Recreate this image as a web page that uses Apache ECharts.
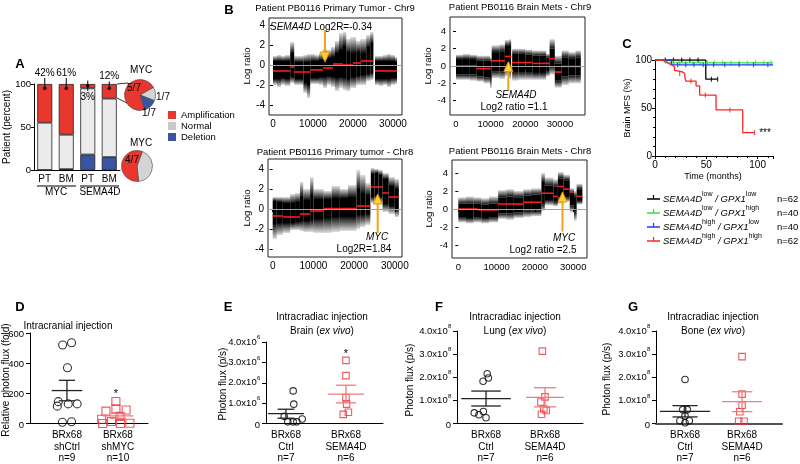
<!DOCTYPE html>
<html>
<head>
<meta charset="utf-8">
<script src="https://cdn.jsdelivr.net/npm/echarts@6.0.0/dist/echarts.min.js"></script>
<style>
html,body{margin:0;padding:0;background:#fff;}
#chart{width:800px;height:464px;position:relative;}
.tick{position:absolute;color:#000;line-height:1;white-space:nowrap;z-index:10;pointer-events:none;transform:translateY(-50%);}
</style>
</head>
<body>
<div id="chart"></div>
<script>
/* ================= DATA ================= */
/* Panel A */
const aCategories = ['PT', 'BM', 'PT', 'BM'];
const aGenes = ['MYC', 'SEMA4D'];
const aDeletion = [0, 1, 18, 15];
const aNormal = [55, 40, 77, 68];
const aAmplification = [45, 59, 5, 17];
const aErrLow = [95, 95, 92, 95];
const aErrHigh = [107, 107, 104, 103];
const aErrDot = [95, 95, 98, 95];
const aPctLabels = ['42%', '61%', '3%', '12%'];
const aLegendNames = ['Amplification', 'Normal', 'Deletion'];
const pieTopNames = ['Normal', 'Deletion', 'Amplification'];
const pieTopValues = [1, 1, 5];
const pieBottomNames = ['Normal', 'Amplification'];
const pieBottomValues = [3, 4];

/* Panel B : [start, end, outerLow, outerHigh, coreLow, coreHigh] read from the point clouds */
const bTitles = ['Patient PB0116 Primary Tumor - Chr9', 'Patient PB0116 Brain Mets - Chr9',
                 'Patient PB0116 Primary tumor - Chr8', 'Patient PB0116 Brain Mets - Chr8'];
const bXTicks = [0, 10000, 20000, 30000];
const bYTicks = [-4, -2, 0, 2, 4];
const b1Cloud = [
 [0,1000,-2.0,0.9,-1.4,0.4],[1000,2000,-2.2,1.0,-1.4,0.4],[2000,3000,-2.0,0.9,-1.3,0.4],
 [3000,4300,-2.1,1.0,-1.4,0.4],[4300,5300,-1.8,2.3,-1.2,1.2],[5300,6500,-2.0,0.9,-1.4,0.3],
 [6500,7600,-2.0,0.9,-1.4,0.3],[7600,8500,-2.8,1.0,-1.8,0.3],[8500,9300,-3.3,1.1,-2.0,0.3],
 [9300,10500,-1.9,1.1,-1.3,0.4],[10500,11500,-1.9,1.0,-1.3,0.4],[11500,12500,-2.0,1.2,-1.2,0.5],
 [12500,13500,-2.3,1.6,-1.2,0.6],[13500,14500,-2.0,1.5,-1.1,0.7],[14500,15500,-2.2,1.8,-1.2,0.8],
 [15500,16500,-2.6,2.4,-1.3,1.2],[16500,17500,-2.3,3.2,-1.2,1.5],[17500,18300,-2.5,3.3,-1.3,1.9],
 [18300,19300,-2.6,2.6,-1.4,1.3],[19300,20800,-2.3,2.8,-1.2,1.2],[20800,21800,-2.0,2.4,-1.1,1.3],
 [21800,23300,-2.0,2.6,-1.0,1.2],[23300,24300,-1.6,3.0,-0.9,1.8],[24300,25100,-1.5,3.3,-0.8,2.2],
 [25500,26500,-2.0,0.9,-1.4,0.4],[26500,27500,-2.1,0.9,-1.4,0.4],[27500,28500,-2.0,1.0,-1.4,0.4],
 [28500,29500,-2.2,1.1,-1.4,0.4],[29500,30500,-2.0,1.0,-1.3,0.4],[30500,31000,-1.9,0.8,-1.3,0.3]
];
const b1Red = [[0,4300,-0.6],[4300,5300,-0.2],[5300,9300,-0.7],[9300,12500,-0.5],[12500,15000,-0.3],
 [15000,17500,0.1],[17500,20000,0.0],[20000,22000,0.2],[22000,25100,0.4],[25500,31000,-0.6]];
const b1Arrow = [13000, 3.5, 0.3];

const b2Cloud = [
 [0,2000,-1.6,1.3,-1.0,0.8],[2000,4000,-1.6,1.4,-1.0,0.8],[4000,6000,-1.7,1.3,-1.0,0.8],
 [6000,8000,-1.8,1.2,-1.2,0.6],[8000,9800,-2.0,1.2,-1.3,0.6],[9800,10300,-2.6,1.0,-1.4,0.5],
 [10300,12500,-1.4,2.4,-0.6,1.6],[12500,14100,-1.5,2.5,-0.6,1.7],[14100,15300,-1.2,3.0,-0.2,2.3],
 [15300,15900,-1.5,3.1,-0.3,2.4],[16200,18000,-1.7,2.0,-0.7,1.4],[18000,20000,-1.6,2.0,-0.7,1.4],
 [20000,22000,-1.6,1.9,-0.7,1.3],[22000,24000,-1.6,1.8,-0.8,1.2],[24000,26000,-1.6,1.8,-0.8,1.2],
 [26000,27000,-1.2,1.4,-0.6,1.0],[27000,28500,-1.0,3.1,0.0,2.0],[28500,30500,-2.5,1.2,-1.7,0.3],
 [30500,32500,-2.2,1.8,-1.2,1.0],[32500,34500,-2.0,1.6,-1.1,0.9],[34500,36000,-2.0,1.8,-1.1,1.0]
];
const b2Red = [[0,6000,0.0],[6000,10000,-0.3],[10300,14100,0.6],[14100,16000,1.1],[16200,22000,0.4],
 [22000,27000,0.3],[27000,28500,0.85],[28500,30500,-0.7],[30500,36000,-0.05]];
const b2Arrow = [15100, -2.8, 0.5];

const b3Cloud = [
 [0,1000,-3.0,1.2,-1.5,0.8],[1000,2500,-2.6,1.2,-1.4,0.7],[2500,4300,-2.4,1.2,-1.4,0.6],
 [4300,5500,-2.1,1.5,-1.4,0.6],[5500,6700,-2.1,1.6,-1.3,0.7],[6700,7500,-2.2,2.7,-1.2,1.2],
 [7500,9200,-2.3,2.0,-1.2,0.9],[9200,10000,-2.3,3.2,-1.1,1.4],[10000,12500,-2.4,2.0,-1.0,1.0],
 [12500,14500,-2.4,1.8,-0.9,1.0],[14500,16500,-2.3,2.3,-0.8,1.1],[16500,18500,-2.2,2.0,-0.8,1.1],
 [18500,20600,-2.2,2.4,-0.8,1.2],[20600,21500,-2.0,3.9,-0.6,2.0],[21500,22800,-1.8,3.4,-0.6,1.6],
 [22800,24000,-1.6,2.6,-0.5,1.4],[24100,25000,0.6,4.1,1.2,3.5],[25000,26000,0.8,4.0,1.3,3.6],
 [26000,27000,0.6,3.9,1.2,3.4],[27000,28500,-0.3,3.6,0.5,3.0],[28500,30000,-0.5,3.2,0.3,2.3],
 [30000,31000,-0.8,3.0,0.0,2.0]
];
const b3Red = [[0,2500,-0.7],[2500,6700,-0.8],[6700,9200,-0.5],[9200,12500,-0.2],[12500,20600,0.05],
 [20600,24000,0.3],[24100,27000,2.2],[27000,28500,1.6],[28500,31000,1.2]];
const b3Arrow = [25800, -2.4, 1.5];

const b4Cloud = [
 [0,2000,-1.5,1.3,-0.9,0.6],[2000,4000,-1.6,1.4,-1.0,0.6],[4000,6000,-1.5,1.3,-0.9,0.6],
 [6000,8000,-1.6,1.2,-1.0,0.5],[8000,10400,-1.5,1.4,-0.9,0.6],[10400,12500,-1.1,2.1,-0.5,1.3],
 [12500,14500,-1.2,2.2,-0.5,1.4],[14500,17000,-1.0,2.0,-0.4,1.3],[17000,19000,-0.9,2.2,-0.2,1.5],
 [19000,21700,-0.8,2.3,-0.2,1.6],[21700,22600,-0.2,4.0,0.5,3.0],[22600,24800,0.4,3.5,1.0,2.6],
 [24800,26000,0.3,3.3,0.8,2.5],[26000,27500,0.6,4.1,1.3,3.4],[27500,29100,0.8,3.8,1.3,3.2],
 [29100,30200,-0.4,2.3,0.4,1.8],[30200,30900,-1.3,2.0,-0.3,1.4],[30900,32400,0.5,2.8,0.9,2.2]
];
const b4Red = [[0,5000,0.0],[5000,10400,-0.1],[10400,17000,0.55],[17000,21700,0.75],[21700,24800,1.75],
 [24800,26000,1.4],[26000,27500,2.5],[27500,29100,2.2],[29100,30200,1.9],[30900,32400,1.4]];
const b4Arrow = [27200, -2.5, 1.9];

/* Panel C : Kaplan-Meier steps [months, %] and censor marks */
const kmNames = ['low/low', 'low/high', 'high/low', 'high/high'];
const kmN = ['n=62', 'n=40', 'n=40', 'n=62'];
const kmLowLow = [[0,100],[49.5,80],[61,80]];
const kmLowHigh = [[0,100],[10,97],[115,97]];
const kmHighLow = [[0,100],[16,95],[115,95]];
const kmHighHigh = [[0,100],[5,99],[9,97.5],[12,96],[14,95],[16,93],[19,89],[21,87.5],[27,86],[29,83],
 [30,78],[40,73],[43.5,63.5],[59.5,48],[85.5,24.3],[97,24.3]];
const cenLowLow = [[10,100],[18,100],[26,100],[34,100],[42,100],[55,80],[61,80]];
const cenLowHigh = [[18,97],[24,97],[30,97],[37,97],[44,97],[51,97],[58,97],[66,97],[74,97],[82,97],[90,97],[98,97],[106,97],[113,97]];
const cenHighLow = [[22,95],[30,95],[38,95],[47,95],[57,95],[68,95],[82,95],[96,95],[110,95]];
const cenHighHigh = [[24,86],[35,78],[49,63.5],[73,48],[97,24.3]];

/* Panels D-G : individual values and horizontal jitter */
const dLabels = [['BRx68','shCtrl','n=9'], ['BRx68','shMYC','n=10']];
const dYTicks = [0, 200, 400, 600];
const dCtrl = [520, 535, 370, 145, 130, 130, 115, 8, 12];
const dCtrlJit = [-0.085, 0.09, 0.01, -0.17, 0.025, 0.2, -0.19, -0.09, 0.09];
const dMyc = [146, 82, 97, 90, 28, 13, 47, 0, 0, 2];
const dMycJit = [-0.04, -0.235, -0.04, 0.16, -0.32, -0.125, 0.04, -0.3, 0.05, 0.235];

const eLabels = [['BRx68','Ctrl','n=7'], ['BRx68','SEMA4D','n=6']];
const eYTicks = [0, 1e6, 2e6, 3e6, 4e6];
const eCtrl = [1.6e6, 0.95e6, 0.35e6, 0.22e6, 0.08e6, 0.08e6, 0.08e6];
const eCtrlJit = [0.12, 0.13, -0.03, 0.27, 0.03, 0.12, 0.18];
const eSema = [3.1e6, 2.35e6, 1.27e6, 0.95e6, 0.55e6, 0.45e6];
const eSemaJit = [0, 0, 0, 0.01, 0.04, -0.045];

const fLabels = [['BRx68','Ctrl','n=7'], ['BRx68','SEMA4D','n=6']];
const fYTicks = [0, 1e8, 2e8, 3e8, 4e8];
const fCtrl = [2.15e8, 1.97e8, 1.83e8, 0.52e8, 0.46e8, 0.38e8, 0.25e8];
const fCtrlJit = [0.02, 0.04, -0.05, -0.045, -0.2, -0.12, 0];
const fSema = [3.13e8, 1.15e8, 0.93e8, 0.63e8, 0.56e8, 0.40e8];
const fSemaJit = [-0.045, 0, -0.07, -0.02, 0.02, -0.06];

const gLabels = [['BRx68','Ctrl','n=7'], ['BRx68','SEMA4D','n=6']];
const gYTicks = [0, 1e8, 2e8, 3e8, 4e8];
const gCtrl = [1.9e8, 0.6e8, 0.6e8, 0.33e8, 0.12e8, 0.12e8, 0.03e8];
const gCtrlJit = [0, -0.04, 0.04, 0, -0.09, 0.075, 0];
const gSema = [2.89e8, 1.27e8, 0.79e8, 0.51e8, 0.1e8, 0.1e8];
const gSemaJit = [0, 0, 0, -0.04, -0.06, 0.035];

/* ================= BUILD ================= */
const FONT = '"Liberation Sans", Arial, Helvetica, sans-serif';
const RED = '#e8372f', GRAY = '#ebebeb', PIEGRAY = '#d4d4d4', BLUE = '#3a54a4';
const grids = [], xAxes = [], yAxes = [], series = [], graphics = [];
const measureCtx = document.createElement('canvas').getContext('2d');
function measure(text, size, italic) {
  measureCtx.font = (italic ? 'italic ' : '') + size + 'px ' + FONT;
  return measureCtx.measureText(text).width;
}
function mkText(x, y, text, o) {
  const opt = Object.assign({}, o || {});
  const rot = opt.rot || 0; delete opt.rot;
  return {type:'text', x, y, silent:true, rotation:rot, z:50,
    style:Object.assign({text, fontFamily:FONT, fontSize:10, fill:'#000', align:'center', verticalAlign:'middle'}, opt)};
}
function txt(x, y, text, o) { graphics.push(mkText(x, y, text, o)); }
function ln(x1, y1, x2, y2, color, w) {
  graphics.push({type:'line', silent:true, shape:{x1, y1, x2, y2}, style:{stroke:color || '#000', lineWidth:w || 1}});
}
const mean = a => a.reduce((s, v) => s + v, 0) / a.length;
const sem = a => { const m = mean(a); return Math.sqrt(a.reduce((s, v) => s + (v - m) * (v - m), 0) / (a.length - 1)) / Math.sqrt(a.length); };

/* ---------- Panel A ---------- */
grids.push({left:34, top:84, width:86, height:86});
xAxes.push({type:'category', gridIndex:0, data:aCategories,
  axisLine:{lineStyle:{color:'#000', width:1}}, axisTick:{show:false},
  axisLabel:{fontSize:10, color:'#000', margin:4, fontFamily:FONT}});
yAxes.push({type:'value', gridIndex:0, min:0, max:100, interval:50,
  axisLine:{show:true, lineStyle:{color:'#000'}}, axisTick:{show:true, length:3, lineStyle:{color:'#000'}},
  splitLine:{show:false}, axisLabel:{fontSize:9.5, color:'#000', margin:3, fontFamily:FONT}});
txt(7, 127, 'Patient (percent)', {rot:Math.PI / 2});
const barBorder = {borderColor:'#222', borderWidth:0.8};
series.push({type:'bar', name:'Deletion', stack:'a', xAxisIndex:0, yAxisIndex:0, barWidth:15, data:aDeletion, itemStyle:Object.assign({color:BLUE}, barBorder)});
series.push({type:'bar', name:'Normal', stack:'a', xAxisIndex:0, yAxisIndex:0, barWidth:15, data:aNormal, itemStyle:Object.assign({color:GRAY}, barBorder)});
series.push({type:'bar', name:'Amplification', stack:'a', xAxisIndex:0, yAxisIndex:0, barWidth:15, data:aAmplification, itemStyle:Object.assign({color:RED}, barBorder)});
series.push({type:'custom', xAxisIndex:0, yAxisIndex:0, z:5, silent:true,
  data:aCategories.map((c, i) => [i, aErrLow[i], aErrHigh[i], aErrDot[i], aAmplification[i]]),
  encode:{x:0, y:[1, 2]},
  renderItem:(p, api) => {
    const i = api.value(0);
    const lo = api.coord([i, api.value(1)]), hi = api.coord([i, api.value(2)]), d = api.coord([i, api.value(3)]);
    const inside = api.value(4) < 10;
    const ty = inside ? d[1] + 12 : hi[1] - 5;
    return {type:'group', children:[
      {type:'line', shape:{x1:lo[0], y1:lo[1], x2:hi[0], y2:hi[1]}, style:{stroke:'#000', lineWidth:1}},
      {type:'circle', shape:{cx:d[0], cy:d[1], r:1.7}, style:{fill:'#000'}},
      {type:'text', x:d[0], y:ty, style:{text:aPctLabels[p.dataIndex], fontSize:10, fontFamily:FONT, fill:'#000', align:'center', verticalAlign:'middle'}}
    ]};
  }});
const pieColor = {Amplification:RED, Normal:PIEGRAY, Deletion:BLUE};
series.push({type:'pie', center:[140, 95], radius:15.5, startAngle:30, clockwise:true, silent:true,
  label:{show:false}, labelLine:{show:false},
  itemStyle:{borderColor:'#444', borderWidth:0.6},
  data:pieTopNames.map((n, i) => ({name:n, value:pieTopValues[i], itemStyle:{color:pieColor[n]}}))});
series.push({type:'pie', center:[137, 166], radius:15.5, startAngle:70, clockwise:true, silent:true,
  label:{show:false}, labelLine:{show:false},
  itemStyle:{borderColor:'#444', borderWidth:0.6},
  data:pieBottomNames.map((n, i) => ({name:n, value:pieBottomValues[i], itemStyle:{color:pieColor[n]}}))});
txt(20, 64, 'A', {fontSize:13, fontWeight:'bold'});
txt(56, 192, aGenes[0]); txt(100, 192, aGenes[1]);
ln(37, 186, 76, 186); ln(80, 186, 119, 186);
txt(141, 70, 'MYC'); txt(141, 143, 'MYC');
txt(134, 88, pieTopValues[2] + '/7'); txt(163, 97, pieTopValues[0] + '/7'); txt(149, 113, pieTopValues[1] + '/7');
txt(132, 160, pieBottomValues[1] + '/7');
ln(117, 84, 128, 83, '#000', 0.8); ln(117, 98, 129, 104, '#000', 0.8);

/* ---------- Panel B ---------- */
const bCfg = [
  {grid:{left:269, top:18, width:133, height:97}, xr:[-1000, 32250], yr:[-5, 4.7], cloud:b1Cloud, red:b1Red, arrow:b1Arrow, fs:10, tx:335, ty:8, nx:247, ny:66},
  {grid:{left:450, top:17, width:135, height:98}, xr:[-1730, 37210], yr:[-5.65, 5.65], cloud:b2Cloud, red:b2Red, arrow:b2Arrow, fs:9.5, tx:520, ty:7, nx:428, ny:66},
  {grid:{left:268, top:159, width:134, height:98}, xr:[-1150, 31770], yr:[-4.8, 5.0], cloud:b3Cloud, red:b3Red, arrow:b3Arrow, fs:10, tx:335, ty:152, nx:247, ny:208},
  {grid:{left:452, top:160, width:135, height:98}, xr:[-1650, 33600], yr:[-5.44, 5.44], cloud:b4Cloud, red:b4Red, arrow:b4Arrow, fs:9.5, tx:520, ty:151, nx:429, ny:209}
];
const fringeUp = new echarts.graphic.LinearGradient(0, 0, 0, 1, [{offset:0, color:'rgba(0,0,0,0.12)'}, {offset:0.5, color:'rgba(0,0,0,0.55)'}, {offset:1, color:'rgba(0,0,0,0.95)'}]);
const fringeDown = new echarts.graphic.LinearGradient(0, 0, 0, 1, [{offset:0, color:'rgba(0,0,0,0.95)'}, {offset:0.5, color:'rgba(0,0,0,0.55)'}, {offset:1, color:'rgba(0,0,0,0.12)'}]);
bCfg.forEach((c, k) => {
  const gi = grids.length;
  grids.push(Object.assign({show:true, borderColor:'#222', borderWidth:1}, c.grid));
  xAxes.push({type:'value', gridIndex:gi, min:c.xr[0], max:c.xr[1], axisLine:{show:false}, splitLine:{show:false},
    axisTick:{show:true, customValues:bXTicks, length:3, lineStyle:{color:'#000'}},
    axisLabel:{customValues:bXTicks, formatter:v => String(v), fontSize:c.fs, color:'#000', margin:4, fontFamily:FONT}});
  yAxes.push({type:'value', gridIndex:gi, min:c.yr[0], max:c.yr[1], axisLine:{show:false}, splitLine:{show:false},
    axisTick:{show:true, customValues:bYTicks, length:3, lineStyle:{color:'#000'}},
    axisLabel:{customValues:bYTicks, formatter:v => String(v), fontSize:c.fs, color:'#000', margin:4, fontFamily:FONT}});
  txt(c.nx, c.ny, 'Log ratio', {rot:Math.PI / 2, fontSize:9.5});
  series.push({type:'custom', xAxisIndex:gi, yAxisIndex:gi, z:2, silent:true,
    data:c.cloud, encode:{x:[0, 1], y:[2, 3]},
    renderItem:(p, api) => {
      const x0 = api.value(0), x1 = api.value(1);
      const oHi = api.coord([x0, api.value(3)]), cHi = api.coord([x1, api.value(5)]);
      const cLo = api.coord([x0, api.value(4)]), oLo = api.coord([x1, api.value(2)]);
      const w = Math.max(oLo[0] - oHi[0], 0.5);
      return {type:'group', children:[
        {type:'rect', shape:{x:oHi[0], y:oHi[1], width:w, height:cHi[1] - oHi[1]}, style:{fill:fringeUp}},
        {type:'rect', shape:{x:oHi[0], y:cHi[1], width:w, height:cLo[1] - cHi[1]}, style:{fill:'#000'}},
        {type:'rect', shape:{x:oHi[0], y:cLo[1], width:w, height:oLo[1] - cLo[1]}, style:{fill:fringeDown}}
      ]};
    }});
  series.push({type:'scatter', xAxisIndex:gi, yAxisIndex:gi, data:[], z:3, silent:true,
    markLine:{silent:true, animation:false, symbol:'none', label:{show:false},
      lineStyle:{color:'#a0a0a0', width:1, type:'solid'}, emphasis:{disabled:true}, data:[{yAxis:0}]}});
  series.push({type:'custom', xAxisIndex:gi, yAxisIndex:gi, z:4, silent:true, data:c.red, encode:{x:[0, 1], y:2},
    renderItem:(p, api) => {
      const a = api.coord([api.value(0), api.value(2)]), b = api.coord([api.value(1), api.value(2)]);
      return {type:'line', shape:{x1:a[0], y1:a[1], x2:b[0], y2:b[1]}, style:{stroke:'#ff1a1a', lineWidth:1.6}};
    }});
  series.push({type:'custom', xAxisIndex:gi, yAxisIndex:gi, z:6, silent:true, data:[c.arrow], encode:{x:0, y:[1, 2]},
    renderItem:(p, api) => {
      const x = api.value(0);
      const a = api.coord([x, api.value(1)]), b = api.coord([x, api.value(2)]);
      const dir = b[1] < a[1] ? -1 : 1;
      const base = b[1] - dir * 10;
      return {type:'group', children:[
        {type:'line', shape:{x1:a[0], y1:a[1], x2:b[0], y2:base}, style:{stroke:'#f5a21b', lineWidth:2}},
        {type:'polygon', shape:{points:[[b[0], b[1]], [b[0] - 4.5, base], [b[0] + 4.5, base]]}, style:{fill:'#ffd43a', stroke:'#f08a00', lineWidth:1}}
      ]};
    }});
  txt(c.tx, c.ty, bTitles[k], {fontSize:9.5});
});
txt(229, 10, 'B', {fontSize:13, fontWeight:'bold'});
const italRich = {i:{fontStyle:'italic', fontFamily:FONT, fontSize:10}, r:{fontFamily:FONT, fontSize:10}};
txt(321, 27, '{i|SEMA4D} {r|Log2R=-0.34}', {rich:italRich});
txt(516, 95, '{i|SEMA4D}', {rich:italRich});
txt(514, 107, 'Log2 ratio =1.1');
txt(377, 237, '{i|MYC}', {rich:italRich});
txt(364, 249, 'Log2R=1.84');
txt(564, 238, '{i|MYC}', {rich:italRich});
txt(543, 250, 'Log2 ratio =2.5');

/* ---------- Panel C ---------- */
const gC = grids.length;
grids.push({left:655, top:60, width:118, height:96});
xAxes.push({type:'value', gridIndex:gC, min:0, max:115, interval:50,
  axisLine:{lineStyle:{color:'#000'}}, axisTick:{length:3, lineStyle:{color:'#000'}},
  minorTick:{show:true, splitNumber:5, length:2, lineStyle:{color:'#000'}}, splitLine:{show:false},
  axisLabel:{fontSize:10, color:'#000', margin:4, fontFamily:FONT, showMaxLabel:false}});
yAxes.push({type:'value', gridIndex:gC, min:0, max:100, interval:50,
  axisLine:{show:true, lineStyle:{color:'#000'}}, axisTick:{length:3, lineStyle:{color:'#000'}},
  minorTick:{show:true, splitNumber:5, length:2, lineStyle:{color:'#000'}}, splitLine:{show:false},
  axisLabel:{fontSize:10, color:'#000', margin:3, fontFamily:FONT}});
txt(713, 177, 'Time (months)', {fontSize:9});
txt(628, 108, 'Brain MFS (%)', {fontSize:9, rot:Math.PI / 2});
const kmColors = ['#000000', '#33e03a', '#1e3ef0', '#ff2424'];
const kmData = [kmLowLow, kmLowHigh, kmHighLow, kmHighHigh];
const cenData = [cenLowLow, cenLowHigh, cenHighLow, cenHighHigh];
[2, 1, 0, 3].forEach(k => {
  series.push({type:'line', name:kmNames[k], xAxisIndex:gC, yAxisIndex:gC, step:'end', data:kmData[k],
    showSymbol:false, symbol:'none', silent:true, z:3 + k, lineStyle:{color:kmColors[k], width:1.3}});
  series.push({type:'scatter', xAxisIndex:gC, yAxisIndex:gC, data:cenData[k], silent:true, z:3 + k,
    symbol:'rect', symbolSize:[1.2, 5], itemStyle:{color:kmColors[k]}});
});
txt(627, 44, 'C', {fontSize:13, fontWeight:'bold'});
txt(765, 133, '***', {fontSize:10});
const legSup = [['low', 'low'], ['low', 'high'], ['high', 'low'], ['high', 'high']];
legSup.forEach((s, k) => {
  const y = 199 + k * 14;
  ln(647, y, 660, y, kmColors[k], 1.5);
  ln(653.5, y, 653.5, y - 4, kmColors[k], 1.2);
  const parts = [['SEMA4D', false], [s[0], true], [' / GPX1', false], [s[1], true]];
  let x = 663;
  parts.forEach(([t, sup]) => {
    const size = sup ? 7 : 9.5;
    txt(x, sup ? y - 5 : y, t, {align:'left', fontSize:size, fontStyle: sup ? 'normal' : 'italic'});
    x += measure(t, size, !sup);
  });
  txt(777, y, kmN[k], {align:'left', fontSize:9.5});
});

/* ---------- Panels D-G ---------- */
const dotCfg = [
  {letter:'D', lx:20, grid:{left:30, top:333, width:118, height:93}, xr:[0.275, 2.59], ymax:600, yint:200, yticks:dYTicks, exp:0,
   labels:dLabels, ctrl:dCtrl, cj:dCtrlJit, test:dMyc, tj:dMycJit, name:'Relative photon flux (fold)', nx:6, ny:380,
   cw:[0.3, 0.16], tw:[0.3, 0.16], size:8, title:['Intracranial injection'], tx:68, star:[116, 391]},
  {letter:'E', lx:228, grid:{left:266, top:342, width:117, height:85}, xr:[0.667, 2.617], ymax:4e6, yint:1e6, yticks:eYTicks, exp:6,
   labels:eLabels, ctrl:eCtrl, cj:eCtrlJit, test:eSema, tj:eSemaJit, name:'Photon flux (p/s)', nx:223, ny:384,
   cw:[0.3, 0.14], tw:[0.3, 0.17], size:6.5, title:['Intracradiac injection', 'Brain'], tx:322, star:[346, 351]},
  {letter:'F', lx:439, grid:{left:457, top:331, width:126, height:98}, xr:[0.508, 2.644], ymax:4e8, yint:1e8, yticks:fYTicks, exp:8,
   labels:fLabels, ctrl:fCtrl, cj:fCtrlJit, test:fSema, tj:fSemaJit, name:'Photon flux (p/s)', nx:410, ny:380,
   cw:[0.42, 0.25], tw:[0.32, 0.19], size:6.5, title:['Intracradiac injection', 'Lung'], tx:515, star:null},
  {letter:'G', lx:633, grid:{left:656, top:331, width:126, height:96}, xr:[0.491, 2.70], ymax:4e8, yint:1e8, yticks:gYTicks, exp:8,
   labels:gLabels, ctrl:gCtrl, cj:gCtrlJit, test:gSema, tj:gSemaJit, name:'Photon flux (p/s)', nx:607, ny:379,
   cw:[0.44, 0.22], tw:[0.35, 0.18], size:6.5, title:['Intracradiac injection', 'Bone'], tx:713, star:null}
];
function meanSeries(gi, data, color, halfW, capW) {
  return {type:'custom', xAxisIndex:gi, yAxisIndex:gi, z:4, silent:true, data, encode:{x:0, y:1},
    renderItem:(p, api) => {
      const x = api.value(0), m = api.value(1), s = api.value(2);
      const L = api.coord([x - halfW, m]), R = api.coord([x + halfW, m]);
      const T = api.coord([x, m + s]), B = api.coord([x, m - s]);
      const c1 = api.coord([x - capW, m + s]), c2 = api.coord([x + capW, m + s]);
      const c3 = api.coord([x - capW, m - s]), c4 = api.coord([x + capW, m - s]);
      const st = {stroke:color, lineWidth:1.3};
      return {type:'group', children:[
        {type:'line', shape:{x1:L[0], y1:L[1], x2:R[0], y2:R[1]}, style:st},
        {type:'line', shape:{x1:T[0], y1:T[1], x2:B[0], y2:B[1]}, style:st},
        {type:'line', shape:{x1:c1[0], y1:c1[1], x2:c2[0], y2:c2[1]}, style:st},
        {type:'line', shape:{x1:c3[0], y1:c3[1], x2:c4[0], y2:c4[1]}, style:st}
      ]};
    }};
}
/* scientific y tick labels of E-G drawn by a custom series through each panel's own y scale */
function tickSeries(gi, c) {
  return {type:'custom', xAxisIndex:gi, yAxisIndex:gi, z:20, silent:true, clip:false,
    data:c.yticks.filter(v => c.exp && v !== 0).map(v => [c.xr[0], v]), encode:{x:0, y:1},
    renderItem:(p, api) => {
      const v = api.value(1);
      const pt = api.coord([api.value(0), v]);
      const right = pt[0] - 6;
      const base = {fontFamily:FONT, fill:'#000', verticalAlign:'middle'};
      const sup = String(c.exp);
      const supW = measure(sup, 6, false);
      return {type:'group', children:[
        {type:'text', x:right - supW, y:pt[1], style:Object.assign({text:(v / Math.pow(10, c.exp)).toFixed(1) + 'x10', fontSize:9.5, align:'right'}, base)},
        {type:'text', x:right - supW + 0.3, y:pt[1] - 4.5, style:Object.assign({text:sup, fontSize:6, align:'left'}, base)}
      ]};
    }};
}
dotCfg.forEach((c, k) => {
  const gi = grids.length;
  c.gi = gi;
  grids.push(c.grid);
  xAxes.push({type:'value', gridIndex:gi, min:c.xr[0], max:c.xr[1], splitLine:{show:false},
    axisLine:{lineStyle:{color: k === 3 ? '#555' : '#000', width: k === 3 ? 2 : 1}}, axisTick:{show:false},
    axisLabel:{customValues:[1, 2], formatter:v => c.labels[Math.round(v) - 1].join('\n'),
      fontSize:10, lineHeight:11.5, color:'#000', margin:6, fontFamily:FONT}});
  yAxes.push({type:'value', gridIndex:gi, min:0, max:c.ymax, interval:c.yint, splitLine:{show:false},
    axisLine:{show:true, lineStyle:{color:'#000'}}, axisTick:{length:4, lineStyle:{color:'#000'}},
    axisLabel:{show:false}});
  txt(c.nx, c.ny, c.name, {rot:Math.PI / 2});
  series.push({type:'scatter', xAxisIndex:gi, yAxisIndex:gi, silent:true, z:3, symbol:'circle', symbolSize:c.size,
    data:c.ctrl.map((v, i) => [1 + c.cj[i], v]),
    itemStyle:{color:'rgba(0,0,0,0)', borderColor:'#000', borderWidth:1.1}});
  series.push({type:'scatter', xAxisIndex:gi, yAxisIndex:gi, silent:true, z:3, symbol:'rect', symbolSize:c.size,
    data:c.test.map((v, i) => [2 + c.tj[i], v]),
    itemStyle:{color:'rgba(0,0,0,0)', borderColor:'#e8333b', borderWidth:1.1}});
  series.push(meanSeries(gi, [[1, mean(c.ctrl), sem(c.ctrl)]], '#222', c.cw[0], c.cw[1]));
  series.push(meanSeries(gi, [[2, mean(c.test), sem(c.test)]], '#f27a7a', c.tw[0], c.tw[1]));
  if (c.exp) series.push(tickSeries(gi, c));
  txt(c.lx, 307, c.letter, {fontSize:13, fontWeight:'bold'});
  if (c.title.length === 1) {
    txt(c.tx, 326, c.title[0]);
  } else {
    txt(c.tx, 317, c.title[0]);
    txt(c.tx, 331, `{r|${c.title[1]} (}{i|ex vivo}{r|)}`, {rich:italRich});
  }
  if (c.star) txt(c.star[0], c.star[1] + 3, '*', {fontSize:11});
});

const chartEl = document.getElementById('chart');
const chart = echarts.init(chartEl, null, {renderer:'canvas'});
chart.setOption({
  animation:false,
  backgroundColor:'#fff',
  textStyle:{fontFamily:FONT},
  legend:{orient:'vertical', left:163, top:105, itemWidth:8, itemHeight:8, itemGap:1, icon:'rect', selectedMode:false,
    textStyle:{fontSize:9.5, color:'#000', fontFamily:FONT},
    data:aLegendNames.map(n => ({name:n, itemStyle:{color: n === 'Normal' ? '#c8c8c8' : pieColor[n], borderWidth:0}}))},
  grid:grids, xAxis:xAxes, yAxis:yAxes, series, graphic:graphics
});

/* plain numeric y tick labels of D-G, placed with the library's own scales */
dotCfg.forEach(c => {
  c.yticks.forEach(v => {
    if (c.exp && v !== 0) return;
    const p = chart.convertToPixel({xAxisIndex:c.gi, yAxisIndex:c.gi}, [c.xr[0], v]);
    const s = document.createElement('span');
    s.className = 'tick';
    s.textContent = String(v);
    s.style.font = '9.5px ' + FONT;
    s.style.right = (800 - (p[0] - 6)) + 'px';
    s.style.top = p[1] + 'px';
    chartEl.appendChild(s);
  });
});
</script>
</body>
</html>
